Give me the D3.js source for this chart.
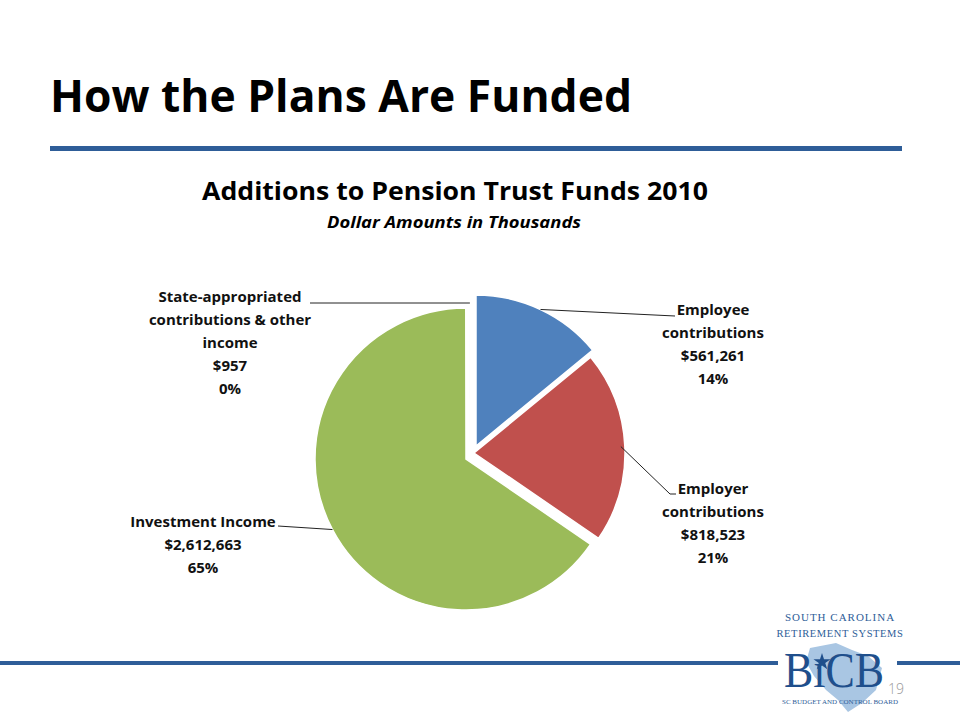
<!DOCTYPE html>
<html>
<head>
<meta charset="utf-8">
<script src="https://cdn.jsdelivr.net/npm/d3@7"></script>
<style>
  body { margin: 0; background: #fff; }
  svg { display: block; font-family: "Open Sans", "Noto Sans", sans-serif; }
</style>
</head>
<body>
<div id="container"></div>
<script>
// Chart Data
var categories = ["Employee contributions", "Employer contributions", "Investment Income", "State-appropriated contributions & other income"];
var amounts = [561261, 818523, 2612663, 957];
var percentLabels = ["14%", "21%", "65%", "0%"];
// Label Lines (Wrapped As In The Slide)
var labelLines = [
  ["Employee", "contributions"],
  ["Employer", "contributions"],
  ["Investment Income"],
  ["State-appropriated", "contributions & other", "income"]
];
var colors = ["#4F81BD", "#C0504D", "#9BBB59", "#8064A2"];

var W = 960, H = 720;
var BLUE = "#2E5D98";
var SERIF = "'Liberation Serif', 'DejaVu Serif', serif";

var svg = d3.select("#container").append("svg")
    .attr("width", W)
    .attr("height", H);

// Slide Title And Rule
svg.append("text")
    .attr("x", 50).attr("y", 112)
    .attr("font-size", 44).attr("font-weight", 700)
    .attr("textLength", 582).attr("lengthAdjust", "spacingAndGlyphs")
    .text("How the Plans Are Funded");
svg.append("rect").attr("x", 50).attr("y", 146).attr("width", 852).attr("height", 5).attr("fill", BLUE);

// Chart Titles
svg.append("text")
    .attr("x", 455).attr("y", 200).attr("text-anchor", "middle")
    .attr("font-size", 25).attr("font-weight", 700)
    .attr("textLength", 506).attr("lengthAdjust", "spacingAndGlyphs")
    .text("Additions to Pension Trust Funds 2010");
svg.append("text")
    .attr("x", 454).attr("y", 228).attr("text-anchor", "middle")
    .attr("font-size", 16).attr("font-weight", 700).attr("font-style", "italic")
    .attr("textLength", 254).attr("lengthAdjust", "spacingAndGlyphs")
    .text("Dollar Amounts in Thousands");

// Pie Setup
var cx = 466, cy = 459, R = 151;
var explode = [[10, -13], [8, -6], [0, 0], [4, -5]]; // per slice offset
var pie = d3.pie().sort(null).value(function(d) { return d; });
var arcs = pie(amounts);
var arc = d3.arc().innerRadius(0).outerRadius(R);

var g = svg.append("g").attr("transform", "translate(" + cx + "," + cy + ")");
g.selectAll("path")
  .data(arcs)
  .enter().append("path")
    .attr("d", arc)
    .attr("transform", function(d, i) { return "translate(" + explode[i][0] + "," + explode[i][1] + ")"; })
    .attr("fill", function(d, i) { return colors[i]; })
    .attr("stroke", "#fff")
    .attr("stroke-width", 1.5);

// Label Positions (x center, first line center)
var labelPos = [[713, 310], [713, 489], [203, 522], [230, 297]];
var lineH = 23;
// Where The Leader Line Meets The Label
var labelAnchor = [[675, 316], [676, 494], [278, 526], [310, 303]];

arcs.forEach(function(d, i) {
  var mid = (d.startAngle + d.endAngle) / 2;
  var rr = (i === 1) ? R - 4 : R;
  var sx = cx + explode[i][0] + rr * Math.sin(mid);
  var sy = cy + explode[i][1] - rr * Math.cos(mid);
  var pts = [[sx, sy], labelAnchor[i]];
  if (i === 1) pts = [[sx, sy], [670, 494], labelAnchor[i]];
  svg.append("path")
      .attr("d", d3.line()(pts))
      .attr("fill", "none")
      .attr("stroke", "#222")
      .attr("stroke-width", 1);

  var lines = labelLines[i].concat(["$" + d3.format(",")(amounts[i]), percentLabels[i]]);
  var t = svg.append("text")
      .attr("text-anchor", "middle")
      .attr("font-size", 15)
      .attr("font-weight", 700)
      .attr("fill", "#111");
  lines.forEach(function(s, k) {
    t.append("tspan")
      .attr("x", labelPos[i][0])
      .attr("y", labelPos[i][1] + k * lineH + 5)
      .text(s);
  });
});

// Bottom Rule
svg.append("rect").attr("x", 0).attr("y", 661).attr("width", 778).attr("height", 4).attr("fill", BLUE);
svg.append("rect").attr("x", 897).attr("y", 661).attr("width", 63).attr("height", 4).attr("fill", BLUE);

// Logo
var logo = svg.append("g");
logo.append("path")
    .attr("d", "M810,648 L836,643 L852,650 L868,656 L882,668 L876,690 L862,703 L848,712 L838,700 L826,690 L814,676 L806,662 Z")
    .attr("fill", "#A9C6E3");
logo.append("text")
    .attr("x", 840).attr("y", 621).attr("text-anchor", "middle")
    .style("font-family", SERIF)
    .attr("font-size", 11).attr("fill", BLUE).attr("letter-spacing", 1)
    .text("SOUTH CAROLINA");
logo.append("text")
    .attr("x", 840).attr("y", 637).attr("text-anchor", "middle")
    .style("font-family", SERIF)
    .attr("font-size", 10.5).attr("fill", BLUE).attr("letter-spacing", 0.6)
    .text("RETIREMENT SYSTEMS");
logo.append("text")
    .attr("x", 834).attr("y", 687).attr("text-anchor", "middle")
    .style("font-family", SERIF)
    .attr("font-size", 50).attr("fill", "#1F4F8C")
    .attr("textLength", 100).attr("lengthAdjust", "spacingAndGlyphs")
    .text("B\u0131CB");
// Palmetto Mark
logo.append("path")
    .attr("d", d3.symbol().type(d3.symbolStar).size(90)())
    .attr("transform", "translate(822,662)")
    .attr("fill", "#1F4F8C");
logo.append("text")
    .attr("x", 840).attr("y", 704).attr("text-anchor", "middle")
    .style("font-family", SERIF)
    .attr("font-size", 7).attr("fill", BLUE)
    .text("SC BUDGET AND CONTROL BOARD");

// Page Number
svg.append("text")
    .attr("x", 896).attr("y", 694).attr("text-anchor", "middle")
    .attr("font-size", 14).attr("font-weight", 300).attr("fill", "#999")
    .text("19");
</script>
</body>
</html>
